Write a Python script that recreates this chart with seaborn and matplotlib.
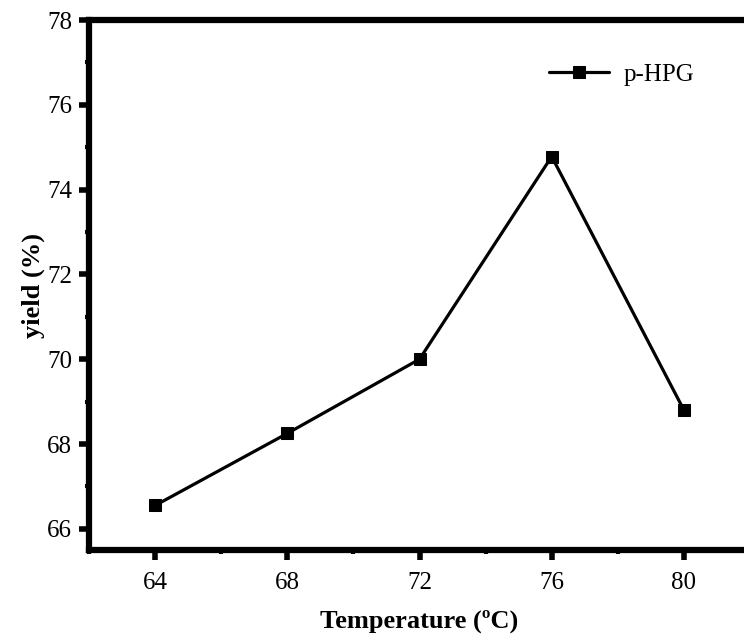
import matplotlib
matplotlib.use("Agg")
import matplotlib.pyplot as plt
import numpy as np
import pandas as pd
import seaborn as sns
from matplotlib.ticker import MultipleLocator

temperature = [64, 68, 72, 76, 80]
yield_pct = [66.55, 68.25, 70.0, 74.78, 68.8]
series_name = "p-HPG"

sns.set_style("ticks")
plt.rcParams["font.family"] = ["Liberation Serif", "DejaVu Serif"]
for key in ("axes.edgecolor", "axes.labelcolor", "text.color",
            "xtick.color", "ytick.color"):
    plt.rcParams[key] = "black"

df = pd.DataFrame({"Temperature": temperature, "yield": yield_pct,
                   "series": series_name})

fig = plt.figure(figsize=(7.44, 6.42), dpi=100)
ax = fig.add_axes([89 / 744, 1 - 550 / 642, (750 - 89) / 744, (550 - 20) / 642])
sns.lineplot(data=df, x="Temperature", y="yield", hue="series",
             palette=["black"], marker="s", markersize=8.5, linewidth=2.3,
             markeredgecolor="black", ax=ax)

ax.set_xlim(62, 82)
ax.set_ylim(65.5, 78)
ax.xaxis.set_major_locator(MultipleLocator(4))
ax.xaxis.set_minor_locator(MultipleLocator(2))
ax.yaxis.set_major_locator(MultipleLocator(2))
ax.yaxis.set_minor_locator(MultipleLocator(1))
ax.tick_params(which="major", length=7, width=4, labelsize=18, direction="out")
ax.tick_params(axis="x", which="major", pad=9)
ax.tick_params(axis="y", which="major", pad=5)
ax.tick_params(which="minor", length=3, width=3, direction="out")
for side in ("left", "bottom", "top"):
    ax.spines[side].set_linewidth(4.5)
ax.spines["right"].set_visible(False)

ax.set_xlabel("Temperature (ºC)", fontsize=19, fontweight="bold", labelpad=11)
ax.set_ylabel("yield (%)", fontsize=19, fontweight="bold", labelpad=2)

leg = ax.legend(loc="upper right", bbox_to_anchor=(0.95, 0.96), frameon=False,
                fontsize=18, handlelength=2.4, handletextpad=0.6)
for h in leg.legend_handles:
    h.set_linewidth(2.3)

fig.savefig("out.png", dpi=100)
